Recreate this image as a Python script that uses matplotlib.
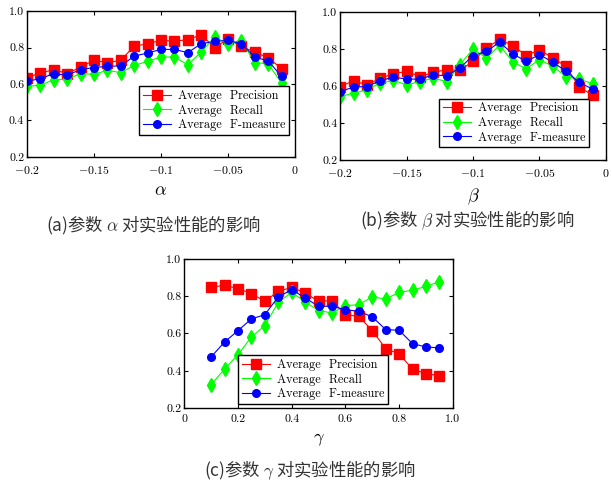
import numpy as np
import matplotlib
matplotlib.use("Agg")
import matplotlib.pyplot as plt

plt.rcParams['font.family'] = ['cmr10', 'Noto Sans CJK SC', 'DejaVu Sans']
plt.rcParams['mathtext.fontset'] = 'cm'
plt.rcParams['axes.formatter.use_mathtext'] = True

# (a) 参数 alpha
alpha_x = [-0.20, -0.19, -0.18, -0.17, -0.16, -0.15, -0.14, -0.13, -0.12, -0.11,
           -0.10, -0.09, -0.08, -0.07, -0.06, -0.05, -0.04, -0.03, -0.02, -0.01]
alpha_p = [0.635, 0.660, 0.679, 0.657, 0.693, 0.730, 0.717, 0.730, 0.808, 0.820,
           0.840, 0.835, 0.843, 0.870, 0.800, 0.848, 0.806, 0.775, 0.744, 0.684]
alpha_r = [0.587, 0.593, 0.624, 0.626, 0.657, 0.653, 0.675, 0.662, 0.702, 0.724,
           0.748, 0.748, 0.706, 0.775, 0.858, 0.821, 0.836, 0.717, 0.711, 0.605]
alpha_f = [0.615, 0.629, 0.657, 0.648, 0.679, 0.690, 0.697, 0.699, 0.753, 0.770,
           0.790, 0.790, 0.772, 0.821, 0.834, 0.839, 0.821, 0.748, 0.726, 0.642]

# (b) 参数 beta
beta_x = alpha_x
beta_p = [0.598, 0.629, 0.607, 0.642, 0.667, 0.680, 0.652, 0.674, 0.689, 0.685,
          0.734, 0.806, 0.852, 0.819, 0.765, 0.797, 0.752, 0.707, 0.593, 0.553]
beta_r = [0.544, 0.562, 0.580, 0.616, 0.631, 0.607, 0.625, 0.643, 0.625, 0.716,
          0.800, 0.752, 0.821, 0.730, 0.694, 0.743, 0.707, 0.652, 0.638, 0.613]
beta_f = [0.571, 0.595, 0.598, 0.629, 0.649, 0.638, 0.638, 0.661, 0.656, 0.698,
          0.765, 0.788, 0.837, 0.774, 0.734, 0.770, 0.730, 0.680, 0.620, 0.584]

# (c) 参数 gamma
gamma_x = [0.10, 0.15, 0.20, 0.25, 0.30, 0.35, 0.40, 0.45, 0.50, 0.55,
           0.60, 0.65, 0.70, 0.75, 0.80, 0.85, 0.90, 0.95]
gamma_p = [0.848, 0.859, 0.841, 0.814, 0.773, 0.826, 0.848, 0.817, 0.773, 0.776,
           0.701, 0.692, 0.615, 0.519, 0.490, 0.409, 0.384, 0.374]
gamma_r = [0.325, 0.409, 0.486, 0.581, 0.642, 0.767, 0.821, 0.769, 0.723, 0.710,
           0.749, 0.755, 0.796, 0.785, 0.821, 0.832, 0.853, 0.877]
gamma_f = [0.474, 0.554, 0.615, 0.678, 0.701, 0.796, 0.835, 0.791, 0.746, 0.746,
           0.728, 0.719, 0.689, 0.621, 0.617, 0.545, 0.528, 0.522]

series_names = ['Average  Precision', 'Average  Recall', 'Average  F-measure']

ab_xticks = [-0.2, -0.15, -0.1, -0.05, 0]
ab_xticklabels = ['$-0.2$', '$-0.15$', '$-0.1$', '$-0.05$', '$0$']
c_xticks = [0, 0.2, 0.4, 0.6, 0.8, 1.0]
c_xticklabels = ['0', '0.2', '0.4', '0.6', '0.8', '1.0']
yticks = [0.2, 0.4, 0.6, 0.8, 1.0]
yticklabels = ['0.2', '0.4', '0.6', '0.8', '1.0']

fig = plt.figure(figsize=(6.12, 4.84), dpi=100)
ax_a = fig.add_axes([0.044, 0.676, 0.438, 0.301])
ax_b = fig.add_axes([0.556, 0.669, 0.434, 0.306])
ax_c = fig.add_axes([0.301, 0.157, 0.439, 0.308])


def draw(ax, x, p, r, f, xlim, xticks, xticklabels, xlabel, legend_box):
    ax.plot(x, p, color='#ff0000', lw=0.8, marker='s', ms=6.5, mec='#ff0000', label=series_names[0])
    ax.plot(x, r, color='#00ff00', lw=0.8, marker='d', ms=7, mec='#00ff00', label=series_names[1])
    ax.plot(x, f, color='#0000ff', lw=0.8, marker='o', ms=5.5, mec='#0000ff', label=series_names[2])
    ax.set_xlim(*xlim)
    ax.set_ylim(0.2, 1.0)
    ax.set_xticks(xticks)
    ax.set_xticklabels(xticklabels)
    ax.set_yticks(yticks)
    ax.set_yticklabels(yticklabels)
    ax.tick_params(direction='in', top=True, right=True, labelsize=8.5, length=3)
    ax.tick_params(axis='x', pad=5)
    ax.tick_params(axis='y', pad=2)
    for s in ax.spines.values():
        s.set_linewidth(1.0)
    ax.set_xlabel(xlabel, fontsize=13, labelpad=5)
    leg = ax.legend(loc='lower left', bbox_to_anchor=legend_box, fontsize=8.8,
                    frameon=True, fancybox=False, edgecolor='black', framealpha=1,
                    handlelength=2.3, borderpad=0.3, labelspacing=0.2, handletextpad=0.6,
                    borderaxespad=0)
    leg.get_frame().set_linewidth(1.0)


draw(ax_a, alpha_x, alpha_p, alpha_r, alpha_f, (-0.2, 0), ab_xticks, ab_xticklabels,
     r'$\alpha$', (0.418, 0.15))
draw(ax_b, beta_x, beta_p, beta_r, beta_f, (-0.2, 0), ab_xticks, ab_xticklabels,
     r'$\beta$', (0.372, 0.088))
draw(ax_c, gamma_x, gamma_p, gamma_r, gamma_f, (0, 1.0), c_xticks, c_xticklabels,
     r'$\gamma$', (0.20, 0.027))

cap_font = ['Noto Sans CJK SC', 'DejaVu Sans']
fig.text(153 / 612, 1 - 225 / 484, '(a)参数 $\\alpha$ 对实验性能的影响', ha='center', va='center',
         fontsize=12.5, family=cap_font, color='#333333')
fig.text(467 / 612, 1 - 220 / 484, '(b)参数 $\\beta$ 对实验性能的影响', ha='center', va='center',
         fontsize=12.5, family=cap_font, color='#333333')
fig.text(310 / 612, 1 - 470 / 484, '(c)参数 $\\gamma$ 对实验性能的影响', ha='center', va='center',
         fontsize=12.5, family=cap_font, color='#333333')

fig.savefig('out.png', dpi=100)
